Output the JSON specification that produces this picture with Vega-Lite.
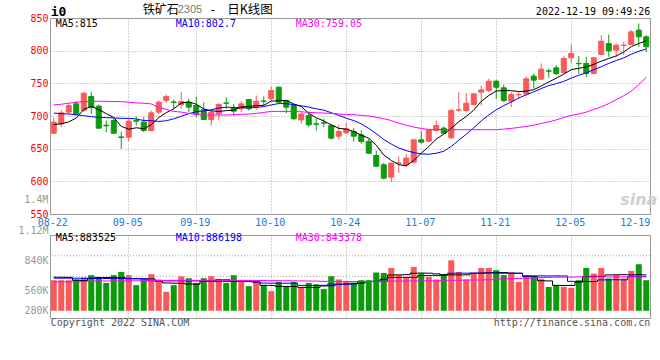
{
"$schema": "https://vega.github.io/schema/vega-lite/v6.json",
"background": "white",
"padding": {"top": 3, "left": 0, "right": 0, "bottom": 0},
"config": {
  "view": {"stroke": "#999999", "strokeWidth": 1},
  "axis": {"labelFont": "DejaVu Sans Mono", "labelFontSize": 10, "ticks": false, "domain": false, "title": null, "gridColor": "#aaaaaa", "gridDash": [1, 2], "gridWidth": 1, "labelBound": false, "labelFlush": false, "labelOverlap": false}
},
"datasets": {"k": [
{"d":"08-22","o":673.7,"h":697.2,"l":672.5,"c":690.6,"v":619000,"m5":687,"m10":704.5,"m30":717,"vm5":652000,"vm10":641000,"vm30":600000},
{"d":"08-23","o":688,"h":709.4,"l":682.9,"c":704.8,"v":619000,"m5":688,"m10":703.5,"m30":718,"vm5":652000,"vm10":641000,"vm30":601000},
{"d":"08-24","o":705.9,"h":718.6,"l":703.3,"c":716.1,"v":619000,"m5":691,"m10":703,"m30":719.5,"vm5":650000,"vm10":642000,"vm30":601000},
{"d":"08-25","o":718.6,"h":722.7,"l":700.8,"c":703.3,"v":627000,"m5":697,"m10":702,"m30":721,"vm5":618000,"vm10":641000,"vm30":602000},
{"d":"08-26","o":708.4,"h":736.5,"l":705.9,"c":735,"v":649000,"m5":710,"m10":700.5,"m30":722,"vm5":616000,"vm10":640000,"vm30":603000},
{"d":"08-29","o":729.8,"h":736.5,"l":703.3,"c":713.5,"v":675000,"m5":714.5,"m10":699,"m30":722.5,"vm5":640000,"vm10":640000,"vm30":609000},
{"d":"08-30","o":715.1,"h":717.6,"l":680.4,"c":681.4,"v":649000,"m5":709.9,"m10":698,"m30":722.5,"vm5":649000,"vm10":638000,"vm30":610000},
{"d":"08-31","o":686,"h":693.1,"l":675.3,"c":685,"v":589000,"m5":703.6,"m10":697.5,"m30":722.5,"vm5":649000,"vm10":638000,"vm30":610000},
{"d":"09-01","o":693.1,"h":695.7,"l":672.7,"c":673.7,"v":675000,"m5":697.7,"m10":697,"m30":722,"vm5":648000,"vm10":639000,"vm30":611000},
{"d":"09-02","o":668,"h":676.3,"l":649.7,"c":667,"v":711000,"m5":684.1,"m10":696.5,"m30":722,"vm5":649000,"vm10":638000,"vm30":611000},
{"d":"09-05","o":667.6,"h":695.7,"l":661.5,"c":692.1,"v":675000,"m5":679.8,"m10":696.3,"m30":721,"vm5":636000,"vm10":637000,"vm30":612000},
{"d":"09-06","o":693,"h":699.2,"l":685.5,"c":692,"v":564000,"m5":682,"m10":695.5,"m30":720,"vm5":634000,"vm10":638000,"vm30":612000},
{"d":"09-07","o":690.6,"h":698.2,"l":675.3,"c":677.8,"v":627000,"m5":680.5,"m10":693,"m30":719.5,"vm5":632000,"vm10":636000,"vm30":613000},
{"d":"09-08","o":677.8,"h":708.4,"l":676.8,"c":704.8,"v":686000,"m5":686.7,"m10":692.8,"m30":718.5,"vm5":634000,"vm10":614000,"vm30":614000},
{"d":"09-09","o":705.9,"h":723.7,"l":703.3,"c":721.2,"v":627000,"m5":697.6,"m10":691.7,"m30":713,"vm5":605000,"vm10":612000,"vm30":616000},
{"d":"09-13","o":723.7,"h":732.9,"l":719.6,"c":729.8,"v":490000,"m5":705.1,"m10":692.7,"m30":710,"vm5":588000,"vm10":612000,"vm30":617000},
{"d":"09-14","o":721.5,"h":725.2,"l":711,"c":721,"v":564000,"m5":710.9,"m10":695.7,"m30":707,"vm5":586000,"vm10":611000,"vm30":617000},
{"d":"09-15","o":717.6,"h":736.5,"l":711,"c":722.2,"v":663000,"m5":719.8,"m10":699.6,"m30":706,"vm5":584000,"vm10":612000,"vm30":618000},
{"d":"09-16","o":721.2,"h":726.3,"l":705.9,"c":713.5,"v":641000,"m5":721.5,"m10":703.5,"m30":704,"vm5":576000,"vm10":610000,"vm30":618000},
{"d":"09-19","o":716,"h":728.8,"l":698.2,"c":703.3,"v":589000,"m5":718,"m10":706.7,"m30":702.5,"vm5":575000,"vm10":612000,"vm30":617000},
{"d":"09-20","o":709.4,"h":721.2,"l":694.6,"c":694.6,"v":641000,"m5":710.9,"m10":707.8,"m30":701.5,"vm5":610000,"vm10":606000,"vm30":617000},
{"d":"09-21","o":694.6,"h":708.4,"l":685.5,"c":705.9,"v":663000,"m5":707.9,"m10":709.5,"m30":701.5,"vm5":612000,"vm10":605000,"vm30":618000},
{"d":"09-22","o":703.3,"h":719.6,"l":693.1,"c":717.6,"v":634000,"m5":707,"m10":712.2,"m30":701.5,"vm5":622000,"vm10":604000,"vm30":618000},
{"d":"09-23","o":720,"h":728.8,"l":711,"c":719.5,"v":589000,"m5":708.2,"m10":713.5,"m30":701.5,"vm5":623000,"vm10":605000,"vm30":617000},
{"d":"09-26","o":712.5,"h":718.6,"l":700.8,"c":707.4,"v":675000,"m5":709,"m10":713,"m30":702,"vm5":606000,"vm10":606000,"vm30":617000},
{"d":"09-27","o":711,"h":722.7,"l":705.9,"c":718.6,"v":612000,"m5":713.8,"m10":712.7,"m30":702.5,"vm5":605000,"vm10":605000,"vm30":616000},
{"d":"09-28","o":725.2,"h":726.3,"l":708.4,"c":711,"v":553000,"m5":714.8,"m10":712.5,"m30":703,"vm5":604000,"vm10":604000,"vm30":616000},
{"d":"09-29","o":713.5,"h":731.4,"l":709.4,"c":722.7,"v":601000,"m5":715.8,"m10":713.2,"m30":704,"vm5":597000,"vm10":603000,"vm30":615000},
{"d":"09-30","o":723,"h":729.8,"l":716,"c":722.5,"v":564000,"m5":716.4,"m10":714.4,"m30":705.5,"vm5":562000,"vm10":587000,"vm30":615000},
{"d":"10-10","o":726.3,"h":745.2,"l":722.7,"c":739,"v":498000,"m5":722.8,"m10":717,"m30":707,"vm5":561000,"vm10":586000,"vm30":614000},
{"d":"10-11","o":744.1,"h":745.2,"l":719.6,"c":721.2,"v":601000,"m5":723.3,"m10":719,"m30":707,"vm5":551000,"vm10":586000,"vm30":614000},
{"d":"10-12","o":723.7,"h":724.7,"l":704.3,"c":713.5,"v":553000,"m5":723.8,"m10":719,"m30":707,"vm5":550000,"vm10":585000,"vm30":613000},
{"d":"10-13","o":716.1,"h":718.6,"l":694.6,"c":695.7,"v":601000,"m5":718.4,"m10":717.3,"m30":707,"vm5":549000,"vm10":586000,"vm30":612000},
{"d":"10-14","o":694,"h":705.9,"l":688,"c":703,"v":538000,"m5":714.5,"m10":715.7,"m30":706.5,"vm5":540000,"vm10":562000,"vm30":611000},
{"d":"10-17","o":700.8,"h":706.9,"l":682.9,"c":686.5,"v":589000,"m5":704,"m10":713.7,"m30":705.5,"vm5":539000,"vm10":561000,"vm30":610000},
{"d":"10-18","o":688,"h":695.7,"l":677.8,"c":687.5,"v":575000,"m5":697.2,"m10":711,"m30":705,"vm5":538000,"vm10":560000,"vm30":609000},
{"d":"10-19","o":689.6,"h":695.7,"l":682.9,"c":689.1,"v":520000,"m5":692.4,"m10":709,"m30":704.5,"vm5":555000,"vm10":562000,"vm30":606000},
{"d":"10-20","o":685.5,"h":688,"l":664,"c":666.1,"v":663000,"m5":686.4,"m10":705,"m30":704,"vm5":557000,"vm10":575000,"vm30":605000},
{"d":"10-21","o":669.1,"h":686.5,"l":664,"c":676.3,"v":627000,"m5":681.1,"m10":701,"m30":703,"vm5":574000,"vm10":574000,"vm30":604000},
{"d":"10-24","o":674.2,"h":689.6,"l":672.7,"c":680.4,"v":608000,"m5":679.9,"m10":696.5,"m30":702.5,"vm5":576000,"vm10":575000,"vm30":604000},
{"d":"10-25","o":676.3,"h":681.4,"l":661,"c":669.1,"v":589000,"m5":676.2,"m10":693,"m30":702,"vm5":585000,"vm10":576000,"vm30":604000},
{"d":"10-26","o":671.2,"h":677.8,"l":657.4,"c":661,"v":619000,"m5":670.6,"m10":688,"m30":701,"vm5":587000,"vm10":604000,"vm30":605000},
{"d":"10-27","o":661,"h":665,"l":642.1,"c":643.1,"v":619000,"m5":666,"m10":681,"m30":700,"vm5":604000,"vm10":605000,"vm30":605000},
{"d":"10-28","o":639.5,"h":647.2,"l":621.7,"c":623.2,"v":704000,"m5":655.4,"m10":673,"m30":698,"vm5":606000,"vm10":606000,"vm30":606000},
{"d":"10-31","o":625.3,"h":628.3,"l":602.8,"c":604.9,"v":700000,"m5":640.3,"m10":664,"m30":696,"vm5":630000,"vm10":607000,"vm30":607000},
{"d":"11-01","o":606.4,"h":629.3,"l":598.7,"c":627.8,"v":755000,"m5":632,"m10":657,"m30":693,"vm5":676000,"vm10":648000,"vm30":609000},
{"d":"11-02","o":627.8,"h":638.5,"l":613,"c":628.3,"v":675000,"m5":625.5,"m10":651,"m30":689,"vm5":678000,"vm10":649000,"vm30":610000},
{"d":"11-03","o":625.3,"h":642.1,"l":621.7,"c":635.5,"v":649000,"m5":623.9,"m10":647,"m30":686,"vm5":680000,"vm10":650000,"vm30":610000},
{"d":"11-04","o":629.3,"h":665,"l":626.8,"c":663.5,"v":766000,"m5":632,"m10":644,"m30":683,"vm5":696000,"vm10":650000,"vm30":611000},
{"d":"11-07","o":663.5,"h":676.8,"l":657.4,"c":660,"v":693000,"m5":643,"m10":642,"m30":681,"vm5":698000,"vm10":670000,"vm30":611000},
{"d":"11-08","o":661.5,"h":680.4,"l":660,"c":678.8,"v":656000,"m5":653.2,"m10":641.5,"m30":679.5,"vm5":697000,"vm10":671000,"vm30":612000},
{"d":"11-09","o":677.8,"h":693.1,"l":676.8,"c":685.5,"v":627000,"m5":664.7,"m10":643,"m30":679,"vm5":689000,"vm10":672000,"vm30":612000},
{"d":"11-10","o":681.4,"h":684,"l":672.7,"c":673.7,"v":686000,"m5":672.3,"m10":646,"m30":679,"vm5":680000,"vm10":672000,"vm30":613000},
{"d":"11-11","o":666.6,"h":711,"l":665,"c":708.4,"v":840000,"m5":681.3,"m10":653.5,"m30":679,"vm5":678000,"vm10":696000,"vm30":618000},
{"d":"11-14","o":709,"h":736.5,"l":705.9,"c":709.5,"v":711000,"m5":691.2,"m10":663,"m30":679,"vm5":677000,"vm10":697000,"vm30":619000},
{"d":"11-15","o":708.4,"h":735,"l":705.9,"c":719.6,"v":627000,"m5":699.3,"m10":672,"m30":679,"vm5":679000,"vm10":697000,"vm30":620000},
{"d":"11-16","o":717.6,"h":735,"l":716.1,"c":733.9,"v":693000,"m5":709,"m10":682,"m30":679,"vm5":696000,"vm10":698000,"vm30":621000},
{"d":"11-17","o":736.5,"h":746.7,"l":716.1,"c":740,"v":755000,"m5":722.3,"m10":692.5,"m30":679,"vm5":698000,"vm10":697000,"vm30":622000},
{"d":"11-18","o":739,"h":756.9,"l":736.5,"c":753.3,"v":755000,"m5":731.3,"m10":701.5,"m30":679,"vm5":703000,"vm10":698000,"vm30":624000},
{"d":"11-21","o":753.3,"h":755.4,"l":726.3,"c":744.1,"v":730000,"m5":738.2,"m10":709.5,"m30":679,"vm5":705000,"vm10":697000,"vm30":632000},
{"d":"11-22","o":743.1,"h":748.2,"l":721.2,"c":723.7,"v":675000,"m5":739,"m10":716,"m30":680,"vm5":704000,"vm10":696000,"vm30":634000},
{"d":"11-23","o":722.7,"h":736.5,"l":713.5,"c":732.9,"v":700000,"m5":738.8,"m10":721.5,"m30":681,"vm5":698000,"vm10":697000,"vm30":636000},
{"d":"11-24","o":732.5,"h":736.5,"l":726.3,"c":733,"v":601000,"m5":737.4,"m10":727.5,"m30":682.5,"vm5":696000,"vm10":696000,"vm30":638000},
{"d":"11-25","o":733.9,"h":760.5,"l":731.4,"c":756.9,"v":656000,"m5":738.1,"m10":732.5,"m30":684,"vm5":661000,"vm10":668000,"vm30":640000},
{"d":"11-28","o":761,"h":765,"l":742.1,"c":754.8,"v":656000,"m5":740.3,"m10":737,"m30":686,"vm5":659000,"vm10":667000,"vm30":642000},
{"d":"11-29","o":756.4,"h":780.4,"l":754.8,"c":771.7,"v":630000,"m5":746,"m10":742,"m30":688.5,"vm5":613000,"vm10":667000,"vm30":648000},
{"d":"11-30","o":769.1,"h":772.7,"l":758.4,"c":768.6,"v":545000,"m5":752,"m10":746.5,"m30":691,"vm5":611000,"vm10":666000,"vm30":650000},
{"d":"12-01","o":773.7,"h":777.8,"l":762.5,"c":765,"v":564000,"m5":758,"m10":749.5,"m30":694,"vm5":562000,"vm10":667000,"vm30":652000},
{"d":"12-02","o":766.6,"h":792,"l":765,"c":788,"v":545000,"m5":764,"m10":753,"m30":698,"vm5":560000,"vm10":666000,"vm30":653000},
{"d":"12-05","o":789,"h":809.4,"l":780.4,"c":795.6,"v":534000,"m5":771,"m10":758,"m30":701,"vm5":561000,"vm10":606000,"vm30":654000},
{"d":"12-06","o":780.5,"h":792,"l":765,"c":780,"v":619000,"m5":773,"m10":762.5,"m30":703,"vm5":597000,"vm10":605000,"vm30":655000},
{"d":"12-07","o":780.4,"h":790.6,"l":759.9,"c":765,"v":755000,"m5":775,"m10":766,"m30":706,"vm5":658000,"vm10":605000,"vm30":655000},
{"d":"12-08","o":765,"h":790.6,"l":763.5,"c":789,"v":693000,"m5":779,"m10":771,"m30":710,"vm5":661000,"vm10":604000,"vm30":656000},
{"d":"12-09","o":794.1,"h":823.7,"l":793.1,"c":814.5,"v":755000,"m5":784,"m10":775.5,"m30":714,"vm5":662000,"vm10":622000,"vm30":656000},
{"d":"12-12","o":810.9,"h":824.7,"l":790.6,"c":799.7,"v":638000,"m5":788,"m10":780.5,"m30":719,"vm5":678000,"vm10":623000,"vm30":656000},
{"d":"12-13","o":800.8,"h":810.9,"l":790.6,"c":808.4,"v":675000,"m5":792,"m10":785,"m30":725,"vm5":679000,"vm10":624000,"vm30":656000},
{"d":"12-14","o":808,"h":813.5,"l":793.1,"c":808.5,"v":638000,"m5":798,"m10":789,"m30":731,"vm5":680000,"vm10":623000,"vm30":656000},
{"d":"12-15","o":809.4,"h":831.4,"l":808.4,"c":828.8,"v":722000,"m5":806,"m10":794.5,"m30":738,"vm5":678000,"vm10":659000,"vm30":656000},
{"d":"12-16","o":831.4,"h":841.6,"l":805.9,"c":821.2,"v":796000,"m5":811,"m10":799,"m30":748,"vm5":680000,"vm10":660000,"vm30":656000},
{"d":"12-19","o":821.2,"h":823.7,"l":798.2,"c":805.9,"v":619000,"m5":815,"m10":802.7,"m30":759.05,"vm5":678000,"vm10":661000,"vm30":656000}
]},
"data": {"name": "k"},
"bounds": "flush",
"spacing": 21,
"vconcat": [
{
  "width": 600,
  "height": 196,
  "layer": [
    {
      "mark": {"type": "rule", "strokeWidth": 1},
      "encoding": {
        "x": {"field": "d", "type": "ordinal", "scale": {"paddingInner": 0, "paddingOuter": 0},
          "axis": {"values": ["08-22","09-05","09-19","10-10","10-24","11-07","11-21","12-05","12-19"], "grid": true, "labelAngle": 0, "labelOverlap": false, "labelColor": "#1a7ad8", "labelPadding": 3,
            "labelAlign": {"condition": {"test": "datum.value === '12-19'", "value": "right"}, "value": "center"},
            "labelOffset": {"condition": {"test": "datum.value === '12-19'", "value": 4}, "value": -1},
            "gridOpacity": {"condition": {"test": "datum.value === '08-22' || datum.value === '12-19'", "value": 0}, "value": 1}}},
        "y": {"field": "l", "type": "quantitative", "scale": {"domain": [550, 850], "nice": false, "zero": false},
          "axis": {"values": [550, 600, 650, 700, 750, 800, 850], "tickCount": 50, "labelOverlap": false, "labelPadding": 2, "minExtent": 49, "maxExtent": 49, "labelColor": "#ff0000",
            "gridOpacity": {"condition": {"test": "datum.value === 550 || datum.value === 850", "value": 0}, "value": 1}}},
        "y2": {"field": "h"},
        "color": {"condition": {"test": "datum.c >= datum.o", "value": "#f85a5a"}, "value": "#0b9b0b"}
      }
    },
    {
      "mark": {"type": "bar", "width": {"band": 0.67}, "strokeWidth": 1},
      "encoding": {
        "x": {"field": "d", "type": "ordinal"},
        "y": {"field": "o", "type": "quantitative"},
        "y2": {"field": "c"},
        "fill": {"condition": {"test": "datum.c >= datum.o", "value": "#f85a5a"}, "value": "#0b9b0b"},
        "stroke": {"condition": {"test": "datum.c >= datum.o", "value": "#f85a5a"}, "value": "#0b9b0b"}
      }
    },
    {"mark": {"type": "line", "color": "#000000", "strokeWidth": 1}, "encoding": {"x": {"field": "d", "type": "ordinal"}, "y": {"field": "m5", "type": "quantitative"}}},
    {"mark": {"type": "line", "color": "#0000ff", "strokeWidth": 1}, "encoding": {"x": {"field": "d", "type": "ordinal"}, "y": {"field": "m10", "type": "quantitative"}}},
    {"mark": {"type": "line", "color": "#ff00ff", "strokeWidth": 1}, "encoding": {"x": {"field": "d", "type": "ordinal"}, "y": {"field": "m30", "type": "quantitative"}}},
    {"data": {"values": [{}]}, "mark": {"type": "text", "text": "1.4M", "align": "right", "baseline": "middle", "dx": -5.5, "font": "DejaVu Sans Mono", "fontSize": 10, "color": "#999999"},
      "encoding": {"x": {"datum": "08-22", "type": "ordinal"}, "y": {"datum": 571, "type": "quantitative"}}},
    {"data": {"values": [{}]}, "mark": {"type": "text", "text": "i0", "align": "left", "baseline": "middle", "dx": -3, "font": "DejaVu Sans Mono", "fontWeight": "bold", "fontSize": 13, "color": "#000000"},
      "encoding": {"x": {"datum": "08-22", "type": "ordinal"}, "y": {"datum": 859.6, "type": "quantitative"}}},
    {"data": {"values": [{}]}, "mark": {"type": "text", "text": "铁矿石", "align": "left", "baseline": "middle", "dx": -1, "font": "Noto Sans CJK SC", "fontSize": 12, "color": "#000000"},
      "encoding": {"x": {"datum": "09-07", "type": "ordinal"}, "y": {"datum": 862.7, "type": "quantitative"}}},
    {"data": {"values": [{}]}, "mark": {"type": "text", "text": "2305", "align": "left", "baseline": "middle", "dx": 4, "font": "Liberation Sans", "fontSize": 11, "color": "#777777"},
      "encoding": {"x": {"datum": "09-14", "type": "ordinal"}, "y": {"datum": 861.5, "type": "quantitative"}}},
    {"data": {"values": [{}]}, "mark": {"type": "text", "text": "-", "align": "left", "baseline": "middle", "dx": -2, "font": "DejaVu Sans Mono", "fontSize": 12, "color": "#000000"},
      "encoding": {"x": {"datum": "09-21", "type": "ordinal"}, "y": {"datum": 861.5, "type": "quantitative"}}},
    {"data": {"values": [{}]}, "mark": {"type": "text", "text": "日K线图", "align": "left", "baseline": "middle", "dx": 1, "font": "Noto Sans CJK SC", "fontSize": 12.5, "color": "#000000"},
      "encoding": {"x": {"datum": "09-23", "type": "ordinal"}, "y": {"datum": 862.7, "type": "quantitative"}}},
    {"data": {"values": [{}]}, "mark": {"type": "text", "text": "2022-12-19 09:49:26", "align": "right", "baseline": "middle", "dx": 4, "font": "DejaVu Sans Mono", "fontSize": 10, "color": "#000000"},
      "encoding": {"x": {"datum": "12-19", "type": "ordinal"}, "y": {"datum": 858.9, "type": "quantitative"}}},
    {"data": {"values": [{}]}, "mark": {"type": "text", "text": "MA5:815", "align": "left", "baseline": "middle", "dx": 2, "font": "DejaVu Sans Mono", "fontSize": 10, "color": "#000000"},
      "encoding": {"x": {"datum": "08-22", "type": "ordinal"}, "y": {"datum": 840.5, "type": "quantitative"}}},
    {"data": {"values": [{}]}, "mark": {"type": "text", "text": "MA10:802.7", "align": "left", "baseline": "middle", "dx": 2, "font": "DejaVu Sans Mono", "fontSize": 10, "color": "#0000ff"},
      "encoding": {"x": {"datum": "09-14", "type": "ordinal"}, "y": {"datum": 840.5, "type": "quantitative"}}},
    {"data": {"values": [{}]}, "mark": {"type": "text", "text": "MA30:759.05", "align": "left", "baseline": "middle", "dx": 2, "font": "DejaVu Sans Mono", "fontSize": 10, "color": "#ff00ff"},
      "encoding": {"x": {"datum": "10-13", "type": "ordinal"}, "y": {"datum": 840.5, "type": "quantitative"}}},
    {"data": {"values": [{}]}, "mark": {"type": "text", "text": "sina", "align": "center", "baseline": "middle", "font": "DejaVu Sans", "fontStyle": "italic", "fontWeight": "bold", "fontSize": 16, "color": "#cfcfcf"},
      "encoding": {"x": {"datum": "12-16", "type": "ordinal"}, "y": {"datum": 571, "type": "quantitative"}}}
  ]
},
{
  "width": 600,
  "height": 83,
  "layer": [
    {"data": {"values": [{}]}, "mark": {"type": "rule", "color": "#aaaaaa", "strokeWidth": 1, "strokeDash": [1, 2]}, "encoding": {"y": {"datum": 430000, "type": "quantitative"}}},
    {"data": {"values": [{}]}, "mark": {"type": "rule", "color": "#aaaaaa", "strokeWidth": 1, "strokeDash": [1, 2]}, "encoding": {"y": {"datum": 660000, "type": "quantitative"}}},
    {"data": {"values": [{}]}, "mark": {"type": "rule", "color": "#aaaaaa", "strokeWidth": 1, "strokeDash": [1, 2]}, "encoding": {"y": {"datum": 890000, "type": "quantitative"}}},
    {
      "mark": {"type": "bar", "width": {"band": 0.8}},
      "encoding": {
        "x": {"field": "d", "type": "ordinal", "scale": {"paddingInner": 0, "paddingOuter": 0},
          "axis": {"values": ["08-22","09-05","09-19","10-10","10-24","11-07","11-21","12-05","12-19"], "grid": true, "labels": false,
            "gridOpacity": {"condition": {"test": "datum.value === '08-22' || datum.value === '12-19'", "value": 0}, "value": 1}}},
        "y": {"field": "v", "type": "quantitative", "scale": {"domain": [200000, 1120000], "nice": false, "zero": false},
          "axis": {"values": [280000, 560000, 840000, 1120000], "tickCount": 50, "grid": false, "labelOverlap": false, "labelPadding": 2, "minExtent": 49, "maxExtent": 49, "labelColor": "#999999",
            "labelExpr": "datum.value === 1120000 ? '1.12M' : (datum.value / 1000) + 'K'",
            "labelOffset": {"condition": [{"test": "datum.value === 1120000", "value": -5}, {"test": "datum.value === 560000", "value": 5}], "value": 0}}},
        "y2": {"datum": 280000},
        "color": {"condition": {"test": "datum.c >= datum.o", "value": "#f85a5a"}, "value": "#0b9b0b"}
      }
    },
    {"mark": {"type": "line", "color": "#000000", "strokeWidth": 1, "interpolate": "step"}, "encoding": {"x": {"field": "d", "type": "ordinal"}, "y": {"field": "vm5", "type": "quantitative"}}},
    {"mark": {"type": "line", "color": "#0000ff", "strokeWidth": 1, "interpolate": "step"}, "encoding": {"x": {"field": "d", "type": "ordinal"}, "y": {"field": "vm10", "type": "quantitative"}}},
    {"mark": {"type": "line", "color": "#ff00ff", "strokeWidth": 1, "interpolate": "step"}, "encoding": {"x": {"field": "d", "type": "ordinal"}, "y": {"field": "vm30", "type": "quantitative"}}},
    {"data": {"values": [{}]}, "mark": {"type": "text", "text": "MA5:883525", "align": "left", "baseline": "middle", "dx": 2, "font": "DejaVu Sans Mono", "fontSize": 10, "color": "#000000"},
      "encoding": {"x": {"datum": "08-22", "type": "ordinal"}, "y": {"datum": 1086700, "type": "quantitative"}}},
    {"data": {"values": [{}]}, "mark": {"type": "text", "text": "MA10:886198", "align": "left", "baseline": "middle", "dx": 2, "font": "DejaVu Sans Mono", "fontSize": 10, "color": "#0000ff"},
      "encoding": {"x": {"datum": "09-14", "type": "ordinal"}, "y": {"datum": 1086700, "type": "quantitative"}}},
    {"data": {"values": [{}]}, "mark": {"type": "text", "text": "MA30:843378", "align": "left", "baseline": "middle", "dx": 2, "font": "DejaVu Sans Mono", "fontSize": 10, "color": "#ff00ff"},
      "encoding": {"x": {"datum": "10-13", "type": "ordinal"}, "y": {"datum": 1086700, "type": "quantitative"}}},
    {"data": {"values": [{}]}, "mark": {"type": "text", "text": "Copyright 2022 SINA.COM", "align": "left", "baseline": "middle", "dx": -3, "font": "DejaVu Sans Mono", "fontSize": 10, "color": "#555555"},
      "encoding": {"x": {"datum": "08-22", "type": "ordinal"}, "y": {"datum": 141300, "type": "quantitative"}}},
    {"data": {"values": [{}]}, "mark": {"type": "text", "text": "http://finance.sina.com.cn", "align": "right", "baseline": "middle", "dx": 4, "font": "DejaVu Sans Mono", "fontSize": 10, "color": "#555555"},
      "encoding": {"x": {"datum": "12-19", "type": "ordinal"}, "y": {"datum": 141300, "type": "quantitative"}}}
  ]
}
]
}
